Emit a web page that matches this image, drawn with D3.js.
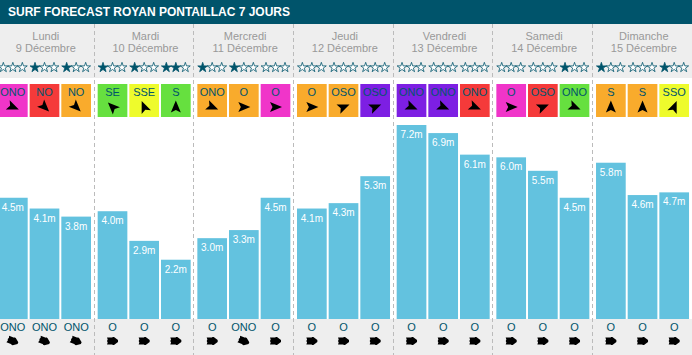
<!DOCTYPE html>
<html>
<head>
<meta charset="utf-8">
<script src="https://cdn.jsdelivr.net/npm/d3@7"></script>
<style>
  html, body { margin: 0; padding: 0; background: #fff; overflow: hidden; }
  text { font-family: "Liberation Sans", Arial, sans-serif; }
</style>
</head>
<body>
<div id="chart"></div>
<script>
const title = "SURF FORECAST ROYAN PONTAILLAC 7 JOURS";
const days = ["Lundi", "Mardi", "Mercredi", "Jeudi", "Vendredi", "Samedi", "Dimanche"];
const dates = ["9 Décembre", "10 Décembre", "11 Décembre", "12 Décembre", "13 Décembre", "14 Décembre", "15 Décembre"];
const slots = [0, 1, 2];

// three values per day
const heights = [4.5, 4.1, 3.8, 4.0, 2.9, 2.2, 3.0, 3.3, 4.5, 4.1, 4.3, 5.3, 7.2, 6.9, 6.1, 6.0, 5.5, 4.5, 5.8, 4.6, 4.7];
const ratings = [0, 1, 1, 1, 1, 2, 1, 1, 0, 0, 0, 0, 0, 0, 0, 0, 0, 1, 1, 0, 1];
const windDirs = ["ONO", "NO", "NO", "SE", "SSE", "S", "ONO", "O", "O", "O", "OSO", "OSO", "ONO", "ONO", "ONO", "O", "OSO", "ONO", "S", "S", "SSO"];
const windLevels = ["m", "r", "o", "g", "y", "g", "o", "o", "m", "o", "o", "p", "p", "p", "r", "m", "r", "g", "o", "o", "y"];
const swellDirs = ["ONO", "ONO", "ONO", "O", "O", "O", "O", "ONO", "O", "O", "O", "O", "O", "O", "O", "O", "O", "O", "O", "O", "O"];

const compass = ["N", "NNE", "NE", "ENE", "E", "ESE", "SE", "SSE", "S", "SSO", "SO", "OSO", "O", "ONO", "NO", "NNO"];
const teal = "#00546b";

const width = 692, height = 355;
const svg = d3.select("#chart").append("svg")
    .attr("width", width)
    .attr("height", height)
    .style("display", "block");

// day columns, then three slots inside each
const x0 = d3.scaleBand().domain(d3.range(7)).range([-2, 695.7]);
const x1 = d3.scaleBand().domain(slots).range([0, 93]).paddingInner(0.0625);
const y = d3.scaleLinear().domain([0, 7.2]).range([319, 125]);

const levelColor = d3.scaleOrdinal()
    .domain(["m", "r", "o", "g", "y", "p"])
    .range(["#f035c9", "#f53a3a", "#f9ab2c", "#66e03f", "#eefb2c", "#7d1fe3"]);

// arrow points where the wind goes, so opposite the compass name
const angle = d => (compass.indexOf(d) * 22.5 + 180) % 360;

const rows = heights.map((h, i) => ({
  day: Math.floor(i / 3),
  slot: i % 3,
  height: h,
  rating: ratings[i],
  wind: windDirs[i],
  level: windLevels[i],
  swell: swellDirs[i]
}));
const left = d => x0(d.day) + x1(d.slot);
const mid = d => left(d) + x1.bandwidth() / 2;

// backgrounds
svg.append("rect").attr("x", 0).attr("y", 24).attr("width", width).attr("height", 54).attr("fill", "#eeeeee");
svg.append("rect").attr("x", 0).attr("y", 319).attr("width", width).attr("height", 36).attr("fill", "#eeeeee");
svg.append("rect").attr("width", width).attr("height", 24).attr("fill", teal);
svg.append("text")
    .attr("x", 8).attr("y", 16)
    .attr("fill", "#fff")
    .style("font-size", "12px")
    .style("font-weight", "bold")
    .text(title);

// dashed separators
svg.append("g").selectAll("line")
    .data(d3.range(1, 7))
  .enter().append("line")
    .attr("x1", d => Math.round(x0(d) - 4) + 0.5)
    .attr("x2", d => Math.round(x0(d) - 4) + 0.5)
    .attr("y1", 24).attr("y2", height)
    .attr("stroke", "#bbb")
    .attr("stroke-dasharray", "4,3");

// day headers
const head = svg.append("g").selectAll("g").data(days).enter().append("g");
head.append("text")
    .attr("x", (d, i) => x0(i) + 47.8).attr("y", 39.5)
    .attr("text-anchor", "middle").attr("fill", "#999")
    .style("font-size", "11px")
    .text(d => d);
head.append("text")
    .attr("x", (d, i) => x0(i) + 47.8).attr("y", 52)
    .attr("text-anchor", "middle").attr("fill", "#999")
    .style("font-size", "11px")
    .text((d, i) => dates[i]);

// rating stars
const star = d3.symbol().type(d3.symbolStar).size(30);
const starOffset = d3.scalePoint().domain([0, 1, 2]).range([-9.5, 9.5]);
svg.append("g").selectAll("g").data(rows).enter().append("g")
    .attr("transform", d => `translate(${mid(d)},67)`)
  .selectAll("path")
    .data(d => slots.map(s => s < d.rating))
  .enter().append("path")
    .attr("d", star)
    .attr("transform", (d, i) => `translate(${starOffset(i)},0.5)`)
    .attr("fill", d => d ? teal : "#fff")
    .attr("stroke", teal)
    .attr("stroke-width", 0.8);

// wind cells
const cell = svg.append("g").selectAll("g").data(rows).enter().append("g");
cell.append("rect")
    .attr("x", left).attr("y", 84)
    .attr("width", x1.bandwidth()).attr("height", 33)
    .attr("fill", d => levelColor(d.level));
cell.append("text")
    .attr("x", mid).attr("y", 96)
    .attr("text-anchor", "middle").attr("fill", teal)
    .style("font-size", "11px")
    .text(d => d.wind);
cell.append("path")
    .attr("d", "M0,-6.5L5,5.5L0,3L-5,5.5Z")
    .attr("transform", d => `translate(${mid(d)},107) rotate(${angle(d.wind)})`)
    .attr("fill", "#000");

// bars
svg.append("g").selectAll("rect").data(rows).enter().append("rect")
    .attr("x", left).attr("y", d => y(d.height))
    .attr("width", x1.bandwidth())
    .attr("height", d => y(0) - y(d.height))
    .attr("fill", "#63c2df");
svg.append("g").selectAll("text").data(rows).enter().append("text")
    .attr("x", mid).attr("y", d => y(d.height) + 13)
    .attr("text-anchor", "middle").attr("fill", "#fff")
    .style("font-size", "10px")
    .text(d => d.height.toFixed(1) + "m");

// swell row
const swell = svg.append("g").selectAll("g").data(rows).enter().append("g");
swell.append("text")
    .attr("x", mid).attr("y", 331)
    .attr("text-anchor", "middle").attr("fill", teal)
    .style("font-size", "11px")
    .text(d => d.swell);
swell.append("path")
    .attr("d", "M-3.5,5.5L-1.5,4.8L0,5.5L1.5,4.8L3.5,5.5L3.5,0L4,0L4,-1.5L1,-5.5L-1,-5.5L-4,-1.5L-4,0L-3.5,0Z")
    .attr("transform", d => `translate(${mid(d)},341) rotate(${angle(d.swell)})`)
    .attr("fill", "#000");
</script>
</body>
</html>
